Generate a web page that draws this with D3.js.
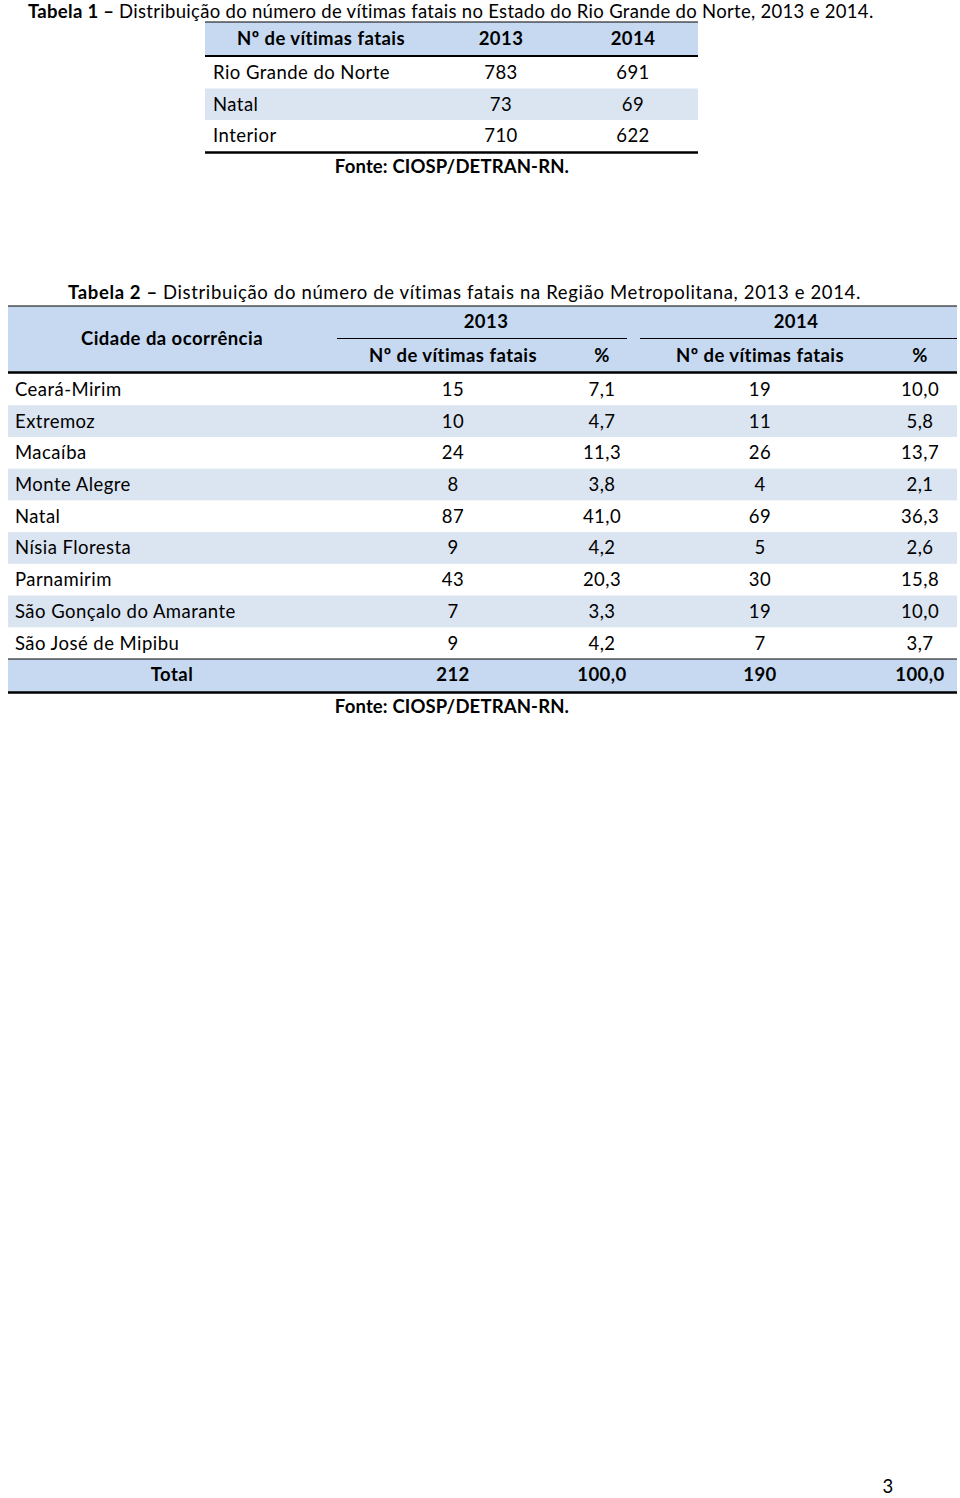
<!DOCTYPE html>
<html>
<head>
<meta charset="utf-8">
<script src="https://cdn.jsdelivr.net/npm/d3@7"></script>
<style>
  body { margin: 0; background: #fff; }
  svg text { font-family: Lato, "Open Sans", sans-serif; fill: #000; font-size: 18.5px; letter-spacing: 0.45px; }
  svg text.b { font-weight: bold; }
  svg text.t1 { letter-spacing: 0.3px; }
  svg text.t2 { letter-spacing: 0.65px; }
  svg text.src { letter-spacing: 0.15px; }
</style>
</head>
<body>
<div id="wrapper"></div>
<script>
// Tabela 1
const t1Title = ["Tabela 1 – ", "Distribuição do número de vítimas fatais no Estado do Rio Grande do Norte, 2013 e 2014."];
const t1Header = ["Nº de vítimas fatais", "2013", "2014"];
const t1Rows = ["Rio Grande do Norte", "Natal", "Interior"];
const t1Val2013 = [783, 73, 710];
const t1Val2014 = [691, 69, 622];

// Tabela 2
const t2Title = ["Tabela 2 – ", "Distribuição do número de vítimas fatais na Região Metropolitana, 2013 e 2014."];
const t2Years = ["2013", "2014"];
const t2SubHeader = ["Nº de vítimas fatais", "%", "Nº de vítimas fatais", "%"];
const t2Cities = ["Ceará-Mirim", "Extremoz", "Macaíba", "Monte Alegre", "Natal", "Nísia Floresta", "Parnamirim", "São Gonçalo do Amarante", "São José de Mipibu"];
const t2Count2013 = [15, 10, 24, 8, 87, 9, 43, 7, 9];
const t2Pct2013 = [7.1, 4.7, 11.3, 3.8, 41.0, 4.2, 20.3, 3.3, 4.2];
const t2Count2014 = [19, 11, 26, 4, 69, 5, 30, 19, 7];
const t2Pct2014 = [10.0, 5.8, 13.7, 2.1, 36.3, 2.6, 15.8, 10.0, 3.7];
const t2Total = ["Total", 212, 100.0, 190, 100.0];

const fonte = "Fonte: CIOSP/DETRAN-RN.";
const pageNumber = "3";

const headBlue = "#c6d9f1";
const rowBlue = "#dbe5f1";

const ptBR = d3.formatLocale({decimal: ",", thousands: ".", grouping: [3], currency: ["R$", ""]});
const fmtPct = ptBR.format(".1f");

const width = 960, height = 1498;
const svg = d3.select("#wrapper").append("svg")
    .attr("width", width)
    .attr("height", height);

function title(g, parts, x, y, cls) {
    const t = g.append("text").attr("class", cls).attr("x", x).attr("y", y).attr("dy", "0.35em");
    t.append("tspan").style("font-weight", "bold").text(parts[0]);
    t.append("tspan").text(parts[1]);
}

function hline(g, x1, x2, y, w) {
    g.append("line").attr("x1", x1).attr("x2", x2).attr("y1", y).attr("y2", y)
        .attr("stroke", "#000").attr("stroke-width", w);
}

// ---------- Tabela 1 ----------
const t1 = svg.append("g");
title(t1, t1Title, 28, 11.5, "t1");

const t1Left = 205, t1Right = 698;
const t1Y = d3.scaleBand().domain(t1Rows).range([57, 151.5]);
const t1X = d3.scaleOrdinal().domain(["2013", "2014"]).range([501, 633]);
const t1Mid = d => t1Y(d) + t1Y.bandwidth() / 2;

t1.append("rect").attr("x", t1Left).attr("y", 22).attr("width", t1Right - t1Left).attr("height", 34)
    .attr("fill", headBlue);
t1.selectAll("rect.alt").data(t1Rows.filter((d, i) => i % 2 === 1)).join("rect")
    .attr("class", "alt")
    .attr("x", t1Left).attr("width", t1Right - t1Left)
    .attr("y", d => t1Y(d)).attr("height", t1Y.bandwidth())
    .attr("fill", rowBlue);

t1.append("text").attr("class", "b").attr("x", 321).attr("y", 39).attr("dy", "0.35em")
    .attr("text-anchor", "middle").text(t1Header[0]);
t1.selectAll("text.yh").data(t1Header.slice(1)).join("text")
    .attr("class", "yh b")
    .attr("x", d => t1X(d)).attr("y", 39).attr("dy", "0.35em")
    .attr("text-anchor", "middle").text(d => d);

t1.selectAll("text.lab").data(t1Rows).join("text")
    .attr("class", "lab")
    .attr("x", 213).attr("y", t1Mid).attr("dy", "0.35em")
    .text(d => d);
t1.selectAll("text.v13").data(t1Rows).join("text")
    .attr("class", "v13")
    .attr("x", t1X("2013")).attr("y", t1Mid).attr("dy", "0.35em")
    .attr("text-anchor", "middle").text((d, i) => t1Val2013[i]);
t1.selectAll("text.v14").data(t1Rows).join("text")
    .attr("class", "v14")
    .attr("x", t1X("2014")).attr("y", t1Mid).attr("dy", "0.35em")
    .attr("text-anchor", "middle").text((d, i) => t1Val2014[i]);

hline(t1, t1Left, t1Right, 22, 1.2);
hline(t1, t1Left, t1Right, 56, 2.2);
hline(t1, t1Left, t1Right, 152.5, 2.4);

t1.append("text").attr("class", "b src").attr("x", 452).attr("y", 167).attr("dy", "0.35em")
    .attr("text-anchor", "middle").text(fonte);

// ---------- Tabela 2 ----------
const t2 = svg.append("g");
title(t2, t2Title, 68, 293, "t2");

const t2Left = 8, t2Right = 957;
const t2Y = d3.scaleBand().domain(t2Cities).range([373.5, 659]);
const cols = ["c13", "p13", "c14", "p14"];
const t2X = d3.scaleOrdinal().domain(cols).range([453, 602, 760, 920]);
const yearX = d3.scaleOrdinal().domain(t2Years).range([486, 796]);
const rowMid = d => t2Y(d) + t2Y.bandwidth() / 2;

t2.append("rect").attr("x", t2Left).attr("y", 306).attr("width", t2Right - t2Left).attr("height", 66)
    .attr("fill", headBlue);
t2.selectAll("rect.alt").data(t2Cities.filter((d, i) => i % 2 === 1)).join("rect")
    .attr("class", "alt")
    .attr("x", t2Left).attr("width", t2Right - t2Left)
    .attr("y", d => t2Y(d)).attr("height", t2Y.bandwidth())
    .attr("fill", rowBlue);
t2.append("rect").attr("x", t2Left).attr("y", 659).attr("width", t2Right - t2Left).attr("height", 33)
    .attr("fill", headBlue);

// header
t2.append("text").attr("class", "b").attr("x", 172).attr("y", 339).attr("dy", "0.35em")
    .attr("text-anchor", "middle").text("Cidade da ocorrência");
t2.selectAll("text.yr").data(t2Years).join("text")
    .attr("class", "yr b")
    .attr("x", d => yearX(d)).attr("y", 322).attr("dy", "0.35em")
    .attr("text-anchor", "middle").text(d => d);
t2.selectAll("text.sh").data(t2SubHeader).join("text")
    .attr("class", "sh b")
    .attr("x", (d, i) => t2X(cols[i])).attr("y", 356).attr("dy", "0.35em")
    .attr("text-anchor", "middle").text(d => d);

// body
t2.selectAll("text.city").data(t2Cities).join("text")
    .attr("class", "city")
    .attr("x", 15).attr("y", rowMid).attr("dy", "0.35em")
    .text(d => d);
const colData = {c13: t2Count2013, p13: t2Pct2013.map(fmtPct), c14: t2Count2014, p14: t2Pct2014.map(fmtPct)};
cols.forEach(c => {
    t2.selectAll("text." + c).data(t2Cities).join("text")
        .attr("class", c)
        .attr("x", t2X(c)).attr("y", rowMid).attr("dy", "0.35em")
        .attr("text-anchor", "middle")
        .text((d, i) => colData[c][i]);
});

// total
t2.append("text").attr("class", "b").attr("x", 172).attr("y", 675).attr("dy", "0.35em")
    .attr("text-anchor", "middle").text(t2Total[0]);
t2.selectAll("text.tot").data(t2Total.slice(1)).join("text")
    .attr("class", "tot b")
    .attr("x", (d, i) => t2X(cols[i])).attr("y", 675).attr("dy", "0.35em")
    .attr("text-anchor", "middle")
    .text((d, i) => i % 2 === 1 ? fmtPct(d) : d);

// rules
hline(t2, t2Left, t2Right, 306, 1.2);
hline(t2, 337, 627, 338.5, 1);
hline(t2, 640, t2Right, 338.5, 1);
hline(t2, t2Left, t2Right, 372.5, 2.4);
hline(t2, t2Left, t2Right, 659, 1.2);
hline(t2, t2Left, t2Right, 692.5, 2.4);

t2.append("text").attr("class", "b src").attr("x", 452).attr("y", 707).attr("dy", "0.35em")
    .attr("text-anchor", "middle").text(fonte);

svg.append("text").attr("x", 888).attr("y", 1487).attr("dy", "0.35em")
    .attr("text-anchor", "middle").text(pageNumber);
</script>
</body>
</html>
